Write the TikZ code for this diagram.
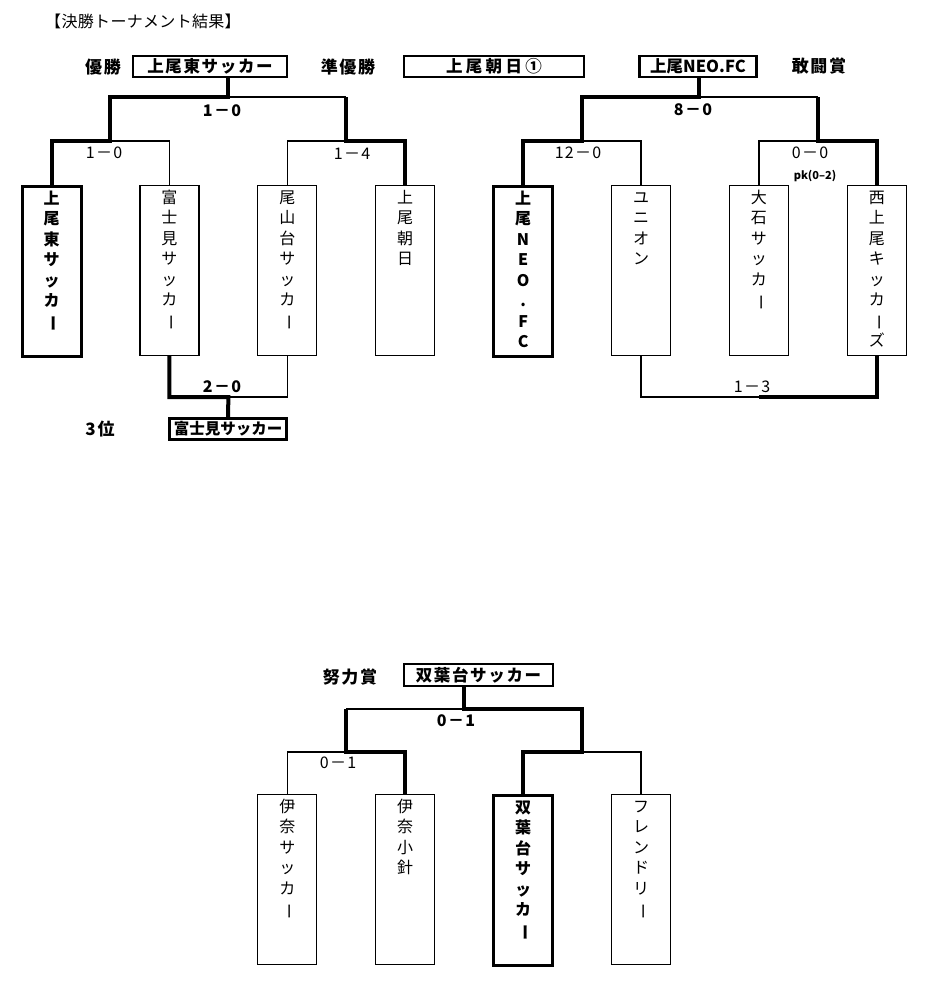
\documentclass[tikz,border=0pt]{standalone}
\usepackage{fontspec}
\setmainfont{Noto Sans CJK JP}
\usetikzlibrary{positioning}
\newcommand{\cho}{\rotatebox[origin=c]{-90}{ー}}
\newcommand{\tate}[1]{\parbox[t]{40pt}{\centering #1}}
\tikzstyle{team}=[draw, line width=1.2pt, minimum width=59pt, inner xsep=0pt, inner ysep=5pt, text height=12.5pt, text depth=147.5pt, anchor=north, font=\fontsize{16}{20.5}\selectfont]
\tikzstyle{winteam}=[team, line width=3pt, font=\fontsize{16}{20.5}\selectfont\bfseries]
\tikzstyle{result}=[draw, line width=2.5pt, minimum height=21pt, inner sep=0pt, font=\fontsize{16.5}{18}\selectfont\bfseries\addfontfeature{LetterSpace=10}]
\tikzstyle{prize}=[font=\fontsize{17}{18}\selectfont\bfseries\addfontfeature{LetterSpace=10}]
\tikzstyle{score}=[font=\fontsize{16}{18}\selectfont\addfontfeature{LetterSpace=8}]
\tikzstyle{bigscore}=[font=\fontsize{16}{18}\selectfont\bfseries\addfontfeature{LetterSpace=8}]
\tikzstyle{thickline}=[draw, line width=4pt]
\tikzstyle{thinline}=[draw, line width=1.2pt]

\begin{document}
\begin{tikzpicture}[x=1pt, y=-1pt]
  \useasboundingbox (0,0) rectangle (935,988);

  \node[font=\fontsize{16}{18}\selectfont\addfontfeature{LetterSpace=2}] (title) at (143,21) {【決勝トーナメント結果】};

  % prizes
  \node[prize] (yusho) at (103,67) {優勝};
  \node[prize] (junyusho) at (348,67) {準優勝};
  \node[prize] (kanto) at (819,66) {敢闘賞};
  \node[prize] (doryoku) at (350,677) {努力賞};
  \node[prize] (sani) at (100,429) {3位};

  \node[result, minimum width=154pt] (champ) at (210,66.5) {上尾東サッカー};
  \node[result, minimum width=180pt, font=\fontsize{16.5}{18}\selectfont\bfseries\addfontfeature{LetterSpace=20}] (second) at (494,66.5) {上尾朝日①};
  \node[result, minimum width=117pt, font=\fontsize{16.5}{18}\selectfont\bfseries] (neo) at (698,66.5) {上尾NEO.FC};
  \node[result, minimum width=117pt, font=\fontsize{15.5}{18}\selectfont\bfseries] (third) at (228,429) {富士見サッカー};
  \node[result, minimum width=149pt, minimum height=22pt] (effort) at (478.5,675) {双葉台サッカー};

  % teams
  \foreach \x/\y/\name/\label in {169.4/185/b2/{富\\士\\見\\サ\\ッ\\カ\\\cho}, 287.3/185/b3/{尾\\山\\台\\サ\\ッ\\カ\\\cho}, 405.2/185/b4/{上\\尾\\朝\\日}, 641/185/n2/{ユ\\ニ\\オ\\ン}, 758.9/185/n3/{大\\石\\サ\\ッ\\カ\\\cho}, 876.8/185/n4/{西\\上\\尾\\キ\\ッ\\カ\\\cho\\ズ}, 287.3/794/f1/{伊\\奈\\サ\\ッ\\カ\\\cho}, 405.2/794/f2/{伊\\奈\\小\\針}, 641/794/f4/{フ\\レ\\ン\\ド\\リ\\\cho}}
       \node[team] (\name) at (\x,\y) {\tate{\label}};

  \foreach \x/\y/\name/\label in {51.5/185/b1/{上\\尾\\東\\サ\\ッ\\カ\\\cho}, 523.1/185/n1/{上\\尾\\N\\E\\O\\.\\F\\C}, 523.1/794/f3/{双\\葉\\台\\サ\\ッ\\カ\\\cho}}
       \node[winteam] (\name) at (\x,\y) {\tate{\label}};

  % left bracket
  \coordinate (lF) at (228.4,97);
  \coordinate (lA) at (110.4,141);
  \coordinate (lB) at (346.2,141);
  \coordinate (l3) at (228.4,397);
  \draw[thickline] (lF |- champ.south) -- (lF) -| (lA) -| (b1.north);
  \draw[thinline] (lF) -- (lF -| lB);
  \draw[thickline] (lB |- lF) -- (lB) -| (b4.north);
  \draw[thinline] (lA) -| (b2.north);
  \draw[thinline] (lB) -| (b3.north);
  \draw[thickline] (b2.south) |- (l3) -- (third.north);
  \draw[thinline] (l3) -| (b3.south);

  % right bracket
  \coordinate (rF) at (699,97);
  \coordinate (rA) at (582,141);
  \coordinate (rB) at (817.8,141);
  \coordinate (r3) at (758.9,397);
  \draw[thickline] (rF |- neo.south) -- (rF) -| (rA) -| (n1.north);
  \draw[thinline] (rF) -- (rF -| rB);
  \draw[thickline] (rB |- rF) -- (rB) -| (n4.north);
  \draw[thinline] (rA) -| (n2.north);
  \draw[thinline] (rB) -| (n3.north);
  \draw[thickline] (n4.south) |- (r3);
  \draw[thinline] (r3) -| (n2.south);

  % bottom bracket
  \coordinate (bF) at (464,709);
  \coordinate (bA) at (346.2,752);
  \coordinate (bB) at (582,752);
  \draw[thickline] (bF |- effort.south) -- (bF) -| (bB) -| (f3.north);
  \draw[thinline] (bF) -- (bF -| bA);
  \draw[thickline] (bA |- bF) -- (bA) -| (f2.north);
  \draw[thinline] (bA) -| (f1.north);
  \draw[thinline] (bB) -| (f4.north);

  % scores
  \foreach \x/\y/\name/\s in {104/153/sA/1－0, 352/154/sB/1－4, 578/153/sC/12－0, 810/153/sD/0－0, 752/387/sE/1－3, 338/763/sF/0－1}
       \node[score] (\name) at (\x,\y) {\s};
  \foreach \x/\y/\name/\s in {222/111/fA/1－0, 222/387/fB/2－0, 693/110/fC/8－0, 456/721/fD/0－1}
       \node[bigscore] (\name) at (\x,\y) {\s};
  \node[font=\fontsize{11}{13}\selectfont\bfseries] (pk) at (815,176) {pk(0–2)};

\end{tikzpicture}
\end{document}
